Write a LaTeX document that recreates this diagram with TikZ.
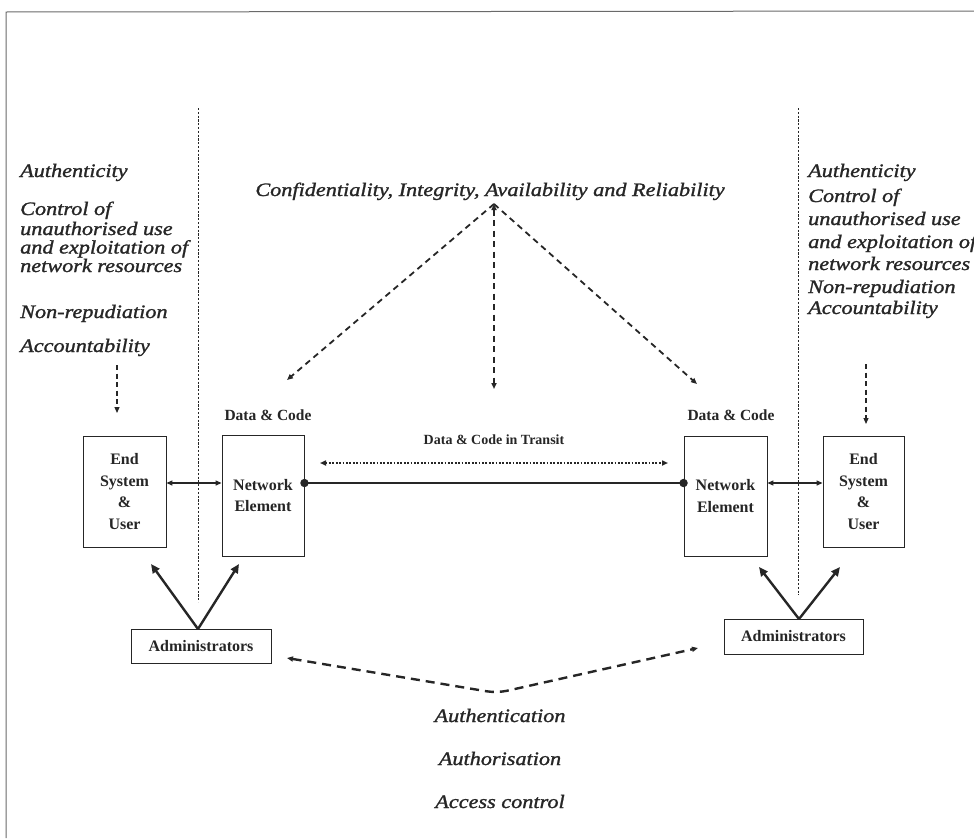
\documentclass[tikz,border=0pt]{standalone}
\usepackage{fontspec}
\setmainfont{Liberation Serif}
\newfontfamily\wideit{Liberation Serif Italic}[FakeStretch=1.17, FakeBold=1.3]
\usetikzlibrary{arrows.meta}
\definecolor{ink}{HTML}{262626}
\definecolor{framec}{HTML}{6A6A6A}
\begin{document}
\begin{tikzpicture}[x=1pt,y=-1pt,
  box/.style={draw=ink, line width=0.9pt, inner sep=0pt, align=center, text=ink,
    font=\bfseries\fontsize{16}{21.5}\selectfont},
  lbl/.style={inner sep=0pt, text=ink, font=\bfseries\fontsize{15.5}{18}\selectfont},
  itx/.style={inner sep=0pt, text=ink, anchor=base west, font=\wideit\fontsize{19}{19}\selectfont},
  itc/.style={inner sep=0pt, text=ink, anchor=base, font=\wideit\fontsize{19}{19}\selectfont},
  tip/.style={-{Triangle[length=6pt,width=5pt]}},
  dtip/.style={{Triangle[length=6pt,width=5pt]}-{Triangle[length=6pt,width=5pt]}},
  dashA/.style={draw=ink, line width=1.8pt, dash pattern=on 6pt off 4.5pt},
  dashB/.style={draw=ink, line width=2.4pt, dash pattern=on 9pt off 6pt},
  thinDash/.style={draw=ink, line width=1.2pt, dash pattern=on 5pt off 3.5pt},
  vdot/.style={draw=ink, line width=1pt, dash pattern=on 2.2pt off 1.6pt},
  transit/.style={draw=ink, line width=2.6pt, dash pattern=on 1.8pt off 1.6pt},
  solidA/.style={draw=ink, line width=2.4pt, -{Triangle[length=9pt,width=8pt]}},
  link/.style={draw=ink, line width=1.3pt},
  frame/.style={draw=framec, line width=1pt}
]
\useasboundingbox (0,0) rectangle (974,838);
\fill[white] (0,0) rectangle (974,838);

% frame
\coordinate (fr1) at (974,11);
\coordinate (fr2) at (6,12);
\coordinate (fr3) at (6,838);
\draw[frame] (fr1) -- (fr2) -- (fr3);

% vertical dotted separators
\coordinate (vl1t) at (198,108);
\coordinate (vl1b) at (198,602);
\coordinate (vl2t) at (798,108);
\coordinate (vl2b) at (798,595);
\draw[vdot] (vl1t) -- (vl1b);
\draw[vdot] (vl2t) -- (vl2b);

% left text block
\node[itx] (la1) at (20,177) {Authenticity};
\node[itx] (la2) at (20,215) {Control of};
\node[itx] (la3) at (20,235) {unauthorised use};
\node[itx] (la4) at (20,253.5) {and exploitation of};
\node[itx] (la5) at (20,272) {network resources};
\node[itx] (la6) at (20,318) {Non-repudiation};
\node[itx] (la7) at (20,352) {Accountability};

% right text block
\node[itx] (ra1) at (808,177) {Authenticity};
\node[itx] (ra2) at (808,202) {Control of};
\node[itx] (ra3) at (808,225) {unauthorised use};
\node[itx] (ra4) at (808,248) {and exploitation of};
\node[itx] (ra5) at (808,270) {network resources};
\node[itx] (ra6) at (808,293) {Non-repudiation};
\node[itx] (ra7) at (808,314) {Accountability};

% title
\node[itc] (cia) at (490,196) {Confidentiality, Integrity, Availability and Reliability};

% boxes
\node[box, minimum width=83pt, minimum height=111pt] (es1) at (124.5,491.5) {End\\System\\\&\\User};
\node[box, minimum width=82pt, minimum height=121pt] (ne1) at (263,495.5) {Network\\Element};
\node[box, minimum width=83pt, minimum height=120pt] (ne2) at (725.5,496) {Network\\Element};
\node[box, minimum width=81pt, minimum height=111pt] (es2) at (863.5,491.5) {End\\System\\\&\\User};
\node[box, minimum width=140pt, minimum height=34pt] (adm1) at (201,646) {Administrators};
\node[box, minimum width=139pt, minimum height=35pt] (adm2) at (793.5,636.5) {Administrators};

% labels
\node[lbl] (dc1) at (268,415) {Data \& Code};
\node[lbl] (dc2) at (731,415) {Data \& Code};
\node[lbl, font=\bfseries\fontsize{14}{16}\selectfont] (dct) at (494,440) {Data \& Code in Transit};

% bottom text
\node[itc] (au1) at (500,722) {Authentication};
\node[itc] (au2) at (500,765) {Authorisation};
\node[itc] (au3) at (500,808) {Access control};

% accountability arrows
\coordinate (acc1) at (117,365);
\coordinate (acc1e) at (117,413);
\coordinate (acc2) at (866,364);
\coordinate (acc2e) at (866,424);
\draw[thinDash, tip] (acc1) -- (acc1e);
\draw[thinDash, tip] (acc2) -- (acc2e);

% CIA arrows
\coordinate (apex) at (494,204);
\coordinate (tL) at (287,380);
\coordinate (tM) at (494,389);
\coordinate (tR) at (697,384);
\draw[dashA, tip] (apex) -- (tL);
\draw[dashA, dtip] (apex) -- (tM);
\draw[dashA, tip] (apex) -- (tR);

% links
\coordinate (lnk) at (0,483);
\draw[link, dtip] (es1.east |- lnk) -- (ne1.west |- lnk);
\draw[link, dtip] (ne2.east |- lnk) -- (es2.west |- lnk);
\draw[draw=ink, line width=2.4pt] (ne1.east |- lnk) -- (ne2.west |- lnk);
\fill[ink] (ne1.east |- lnk) circle (4.2pt);
\fill[ink] (ne2.west |- lnk) circle (4.2pt);

% transit arrow
\coordinate (trL) at (320,463);
\coordinate (trR) at (668,463);
\draw[transit, dtip] (trL) -- (trR);

% administrator arrows
\coordinate (a1) at (198,629);
\coordinate (a1l) at (151,564);
\coordinate (a1r) at (239,564);
\draw[solidA] (a1) -- (a1l);
\draw[solidA] (a1) -- (a1r);
\coordinate (a2) at (799,619);
\coordinate (a2l) at (759,567);
\coordinate (a2r) at (840,567);
\draw[solidA] (a2) -- (a2l);
\draw[solidA] (a2) -- (a2r);

% authentication arrows
\coordinate (bL) at (287,658);
\coordinate (bA) at (497,693);
\coordinate (bR) at (698,648);
\draw[dashB, dtip, rounded corners=10pt] (bL) -- (bA) -- (bR);
\end{tikzpicture}
\end{document}
